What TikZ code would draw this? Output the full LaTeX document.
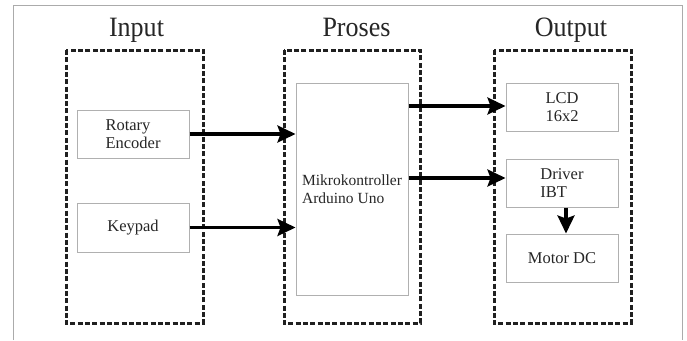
\documentclass[tikz,border=0pt]{standalone}
\usepackage{fontspec}
\setmainfont{Liberation Serif}
\usetikzlibrary{arrows.meta}
\definecolor{txt}{HTML}{262626}
\definecolor{boxline}{HTML}{B0B0B0}
\definecolor{frameline}{HTML}{ABABAB}
\definecolor{dashline}{HTML}{202020}
\newcommand{\ttl}[1]{\scalebox{0.93}[1]{\fontsize{28}{32}\selectfont #1}}
\begin{document}
\begin{tikzpicture}[x=1pt,y=-1pt,
  title/.style={text=txt, inner sep=0pt, anchor=base},
  group/.style={draw=dashline, line width=3pt, dash pattern=on 5pt off 2.3pt},
  blk/.style={draw=boxline, line width=1pt, fill=white, text=txt,
     font=\fontsize{16.5}{18}\selectfont, align=left, inner sep=0pt},
  conn/.style={-{Stealth[length=18pt,width=17pt,inset=3pt]}, line width=3.2pt, black}]
\useasboundingbox (0,0) rectangle (687,340);
\fill[white] (0,0) rectangle (687,340);
% outer page frame
\draw[frameline, line width=1pt] (13,340) -- (13,5.5) -- (682.5,5.5) -- (682.5,340);
% titles
\node[title] (tin) at (136.5,36) {\ttl{Input}};
\node[title] (tpr) at (356.5,36.5) {\ttl{Proses}};
\node[title] (tout) at (571,36) {\ttl{Output}};
% dashed groups
\draw[group] (66,50) rectangle (203,323);
\draw[group] (284,50) rectangle (420,323);
\draw[group] (494,50) rectangle (631,323);
% blocks
\node[blk, minimum width=112pt, minimum height=48pt] (rot) at (133,134) {Rotary\\Encoder};
\node[blk, minimum width=112pt, minimum height=49pt] (key) at (133,227.5) {Keypad};
\node[blk, minimum width=112pt, minimum height=212pt, font=\fontsize{15.5}{17.5}\selectfont] (mik) at (352,189) {Mikrokontroller\\Arduino Uno};
\node[blk, minimum width=112pt, minimum height=48pt, align=center] (lcd) at (562,107) {LCD\\16x2};
\node[blk, minimum width=112pt, minimum height=48pt] (drv) at (562,183) {Driver\\IBT};
\node[blk, minimum width=112pt, minimum height=48pt] (mot) at (562,258) {Motor DC};
% connectors
\draw[conn] (rot.east) -- (rot.east -| mik.west);
\draw[conn] (key.east) -- (key.east -| mik.west);
\coordinate (m1) at ([yshift=1pt]mik.east |- lcd.west);
\draw[conn] (m1) -- (m1 -| lcd.west);
\coordinate (m2) at ([yshift=5pt]mik.east |- drv.west);
\draw[conn] (m2) -- (m2 -| drv.west);
\coordinate (d1) at ([xshift=4pt]drv.south);
\draw[conn] (d1) -- (d1 |- mot.north);
\end{tikzpicture}
\end{document}
